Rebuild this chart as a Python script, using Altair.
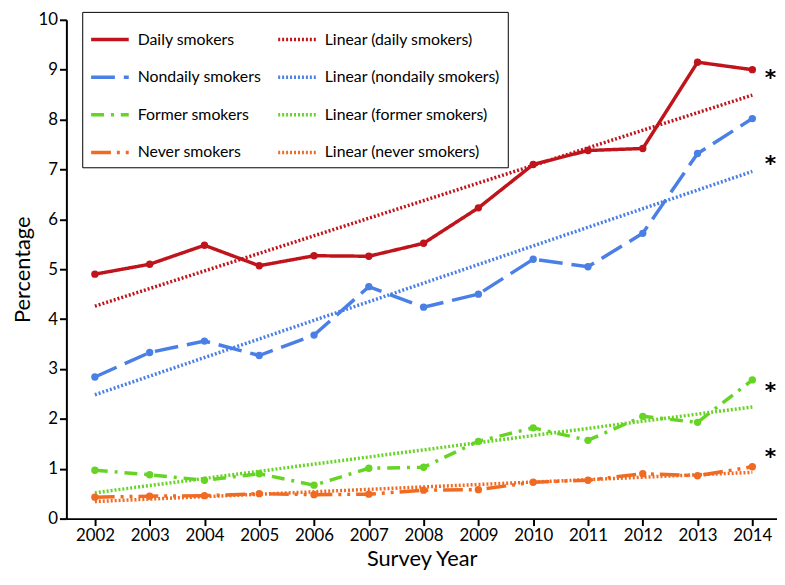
import altair as alt
import pandas as pd

years = list(range(2002, 2015))
daily = [4.90, 5.10, 5.48, 5.07, 5.27, 5.26, 5.52, 6.23, 7.10, 7.38, 7.42, 9.15, 9.00]
nondaily = [2.84, 3.33, 3.56, 3.27, 3.68, 4.65, 4.24, 4.50, 5.20, 5.05, 5.72, 7.32, 8.02]
former = [0.97, 0.88, 0.77, 0.90, 0.67, 1.01, 1.03, 1.55, 1.82, 1.57, 2.05, 1.93, 2.78]
never = [0.43, 0.45, 0.46, 0.50, 0.48, 0.49, 0.57, 0.58, 0.73, 0.77, 0.90, 0.86, 1.04]

series_names = ["Daily smokers", "Nondaily smokers", "Former smokers", "Never smokers"]
series_values = [daily, nondaily, former, never]
series_colors = ["#C0141C", "#4A7FE6", "#66D424", "#F06A22"]
series_dashes = [[1, 0], [24, 9], [13, 7, 3, 7], [20, 6, 3, 6, 3, 6]]
trend_dash = [2, 2]

star_values = [8.83, 7.10, 2.55, 1.23]

font = "Lato"

rows = []
for name, vals in zip(series_names, series_values):
    for y, v in zip(years, vals):
        rows.append({"year": y, "pct": v, "series": name, "label": name})
df = pd.DataFrame(rows)

stars = pd.DataFrame({"pct": star_values, "year": [2014.33] * 4, "txt": ["*"] * 4})

# legend is filled column by column: data series first, then their linear trends
legend_domain = list(series_names) + ["Linear (" + n.lower() + ")" for n in series_names]
legend_colors = series_colors + series_colors
legend_dashes = series_dashes + [trend_dash] * 4
legend_widths = [3.5] * 4 + [1.8] * 4

leg = alt.Legend(
    title=None, orient="none", legendX=16, legendY=-8, columns=2,
    symbolType="M-1,0H1", symbolSize=1444, labelFont=font, labelFontSize=16,
    labelColor="black", labelOffset=7, columnPadding=10, rowPadding=9,
    padding=7, strokeColor="black", fillColor="white", labelLimit=300,
)

color = alt.Color("label:N", scale=alt.Scale(domain=legend_domain, range=legend_colors), legend=leg)
dash = alt.StrokeDash("label:N", scale=alt.Scale(domain=legend_domain, range=legend_dashes), legend=leg)
width_enc = alt.StrokeWidth("label:N", scale=alt.Scale(domain=legend_domain, range=legend_widths), legend=leg)

xenc = alt.X("year:Q", scale=alt.Scale(domain=[2001.48, 2014.45], nice=False, zero=False),
             axis=alt.Axis(values=years, format="d", title="Survey Year", titlePadding=5))
yenc = alt.Y("pct:Q", scale=alt.Scale(domain=[0, 10], nice=False),
             axis=alt.Axis(values=list(range(0, 11)), title="Percentage", titlePadding=4))

base = alt.Chart(df)

lines = base.mark_line().encode(x=xenc, y=yenc, color=color, strokeDash=dash, strokeWidth=width_enc)

points = base.mark_circle(size=55, opacity=1).encode(x=xenc, y=yenc, color=color)

trends = base.transform_regression("year", "pct", groupby=["series"]).transform_calculate(
    label="'Linear (' + lower(datum.series) + ')'"
).mark_line().encode(x=xenc, y=yenc, color=color, strokeDash=dash, strokeWidth=width_enc)

star_layer = alt.Chart(stars).mark_text(
    text="*", font="DejaVu Sans", fontSize=22, fontWeight="bold", color="black", baseline="middle"
).encode(x="year:Q", y="pct:Q")

chart = alt.layer(trends, lines, points, star_layer).properties(
    width=718, height=504, padding={"left": 3, "top": 0, "right": 0, "bottom": 0}
).configure_view(stroke=None).configure_axis(
    domainColor="black", domainWidth=2, tickColor="black", tickWidth=2, tickSize=7,
    labelFont=font, labelFontSize=17, labelColor="black", labelPadding=2,
    titleFont=font, titleFontSize=22, titleFontWeight="normal", titleColor="black",
    grid=False,
)

chart.save("out.html", embed_options={"renderer": "svg", "actions": False})
